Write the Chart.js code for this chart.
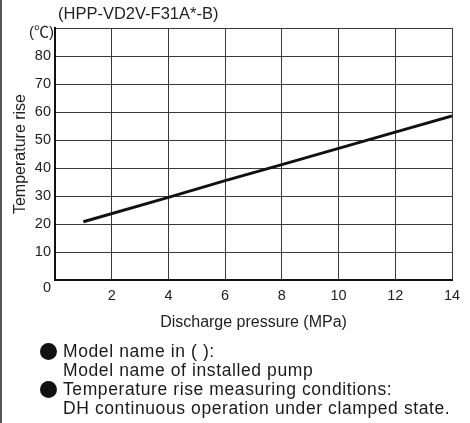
<!DOCTYPE html>
<html>
<head>
<meta charset="utf-8">
<script src="https://cdn.jsdelivr.net/npm/chart.js@4"></script>
<style>
  html, body { margin: 0; padding: 0; background: #fff; }
  #wrap { position: relative; width: 470px; height: 423px; overflow: hidden; }
  #edge { position: absolute; left: 0; top: 0; width: 2px; height: 423px; background: #555; }
  .note { position: absolute; left: 63px; font: 17.5px "Liberation Sans", Arial, sans-serif; color: #1a1a1a;
          letter-spacing: 0.6px; line-height: 19px; white-space: nowrap; }
  .dot { position: absolute; left: 39.5px; width: 17px; height: 17px; border-radius: 50%; background: #111; }
</style>
</head>
<body>
<div id="wrap">
  <canvas id="c" width="470" height="423"></canvas>
  <div id="edge"></div>
  <div class="dot" style="top:342.5px"></div>
  <div class="note" style="top:341.5px">Model name in ( ):</div>
  <div class="note" style="top:360.5px">Model name of installed pump</div>
  <div class="dot" style="top:381px"></div>
  <div class="note" style="top:380px">Temperature rise measuring conditions:</div>
  <div class="note" style="top:399px">DH continuous operation under clamped state.</div>
</div>
<script>
// Temperature rise vs. discharge pressure
const pressure = [1, 4, 6, 8, 10, 12, 14];          // MPa
const tempRise = [20.8, 29.5, 35.5, 41.2, 47, 52.8, 58.6]; // °C
const modelName = '(HPP-VD2V-F31A*-B)';
const unitLabel = '(℃)';
const xLabel = 'Discharge pressure (MPa)';
const yLabel = 'Temperature rise';

const FONT = '"Liberation Sans", Arial, "Noto Sans CJK JP", sans-serif';
const TEXT = '#222';

// Header text, unit label and the shared origin "0"
const annotations = {
  id: 'annotations',
  afterDraw(chart) {
    const { ctx, chartArea, scales } = chart;
    ctx.save();
    ctx.fillStyle = TEXT;
    ctx.textBaseline = 'middle';
    ctx.font = '16.5px ' + FONT;
    ctx.textAlign = 'left';
    ctx.fillText(modelName, chartArea.left + 3, 14);
    ctx.font = '15px ' + FONT;
    ctx.textAlign = 'right';
    ctx.fillText(unitLabel, chartArea.left - 1, chartArea.top + 5);
    ctx.font = '14.5px ' + FONT;
    ctx.fillText('0', scales.y.right - 4, scales.y.getPixelForValue(0) + 8);
    ctx.restore();
  }
};

new Chart(document.getElementById('c'), {
  type: 'scatter',
  data: {
    datasets: [{
      data: pressure.map((p, i) => ({ x: p, y: tempRise[i] })),
      showLine: true,
      borderColor: '#111',
      borderWidth: 3,
      pointRadius: 0,
      tension: 0
    }]
  },
  options: {
    responsive: false,
    animation: false,
    devicePixelRatio: 1,
    layout: { padding: { top: 28, right: 18, bottom: 91, left: 0 } },
    plugins: { legend: { display: false }, tooltip: { enabled: false } },
    scales: {
      x: {
        type: 'linear', min: 0, max: 14,
        ticks: {
          stepSize: 2, padding: 7, color: TEXT, font: { family: FONT, size: 14.5 },
          callback: v => (v === 0 ? '' : v)
        },
        grid: { color: '#3a3a3a', lineWidth: 1, drawTicks: false },
        border: { color: '#111', width: 2 },
        title: { display: true, text: xLabel, color: TEXT, font: { family: FONT, size: 16 }, padding: 0 },
        afterFit(s) { s.height = 52; s.paddingLeft = 0; s.paddingRight = 0; }
      },
      y: {
        min: 0, max: 90,
        ticks: {
          stepSize: 10, padding: 4, color: TEXT, font: { family: FONT, size: 14.5 },
          callback: v => (v === 0 || v === 90 ? '' : v)
        },
        grid: { color: '#3a3a3a', lineWidth: 1, drawTicks: false },
        border: { color: '#111', width: 2 },
        title: { display: true, text: yLabel, color: TEXT, font: { family: FONT, size: 16 }, padding: { top: 11, bottom: 0 } },
        afterFit(s) { s.width = 55; s.paddingTop = 0; s.paddingBottom = 0; }
      }
    }
  },
  plugins: [annotations]
});
</script>
</body>
</html>
